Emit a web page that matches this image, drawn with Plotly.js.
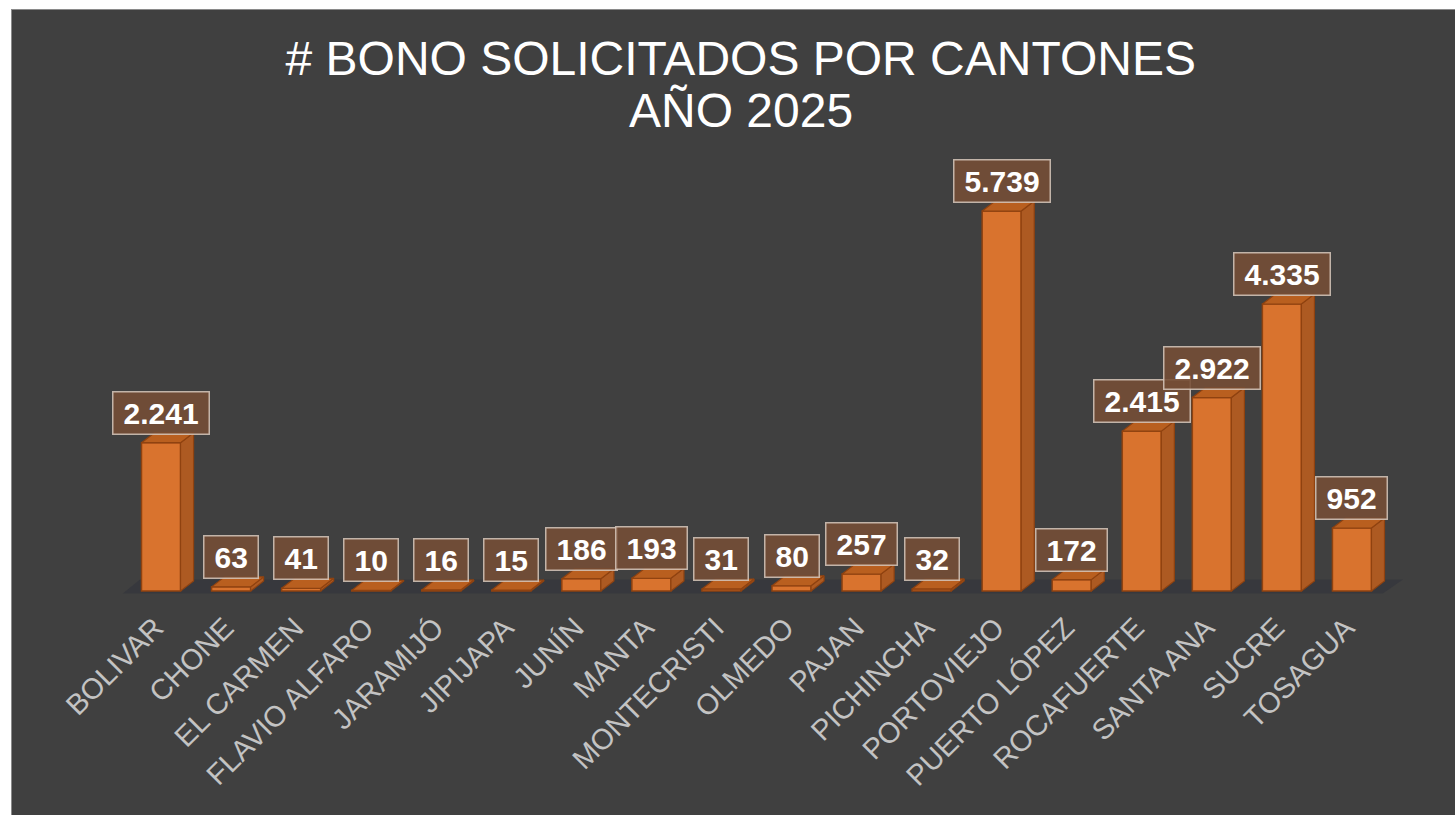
<!DOCTYPE html>
<html>
<head>
<meta charset="utf-8">
<script src="https://cdn.plot.ly/plotly-3.0.1.min.js"></script>
<style>
  html, body { margin: 0; padding: 0; background: #ffffff; width: 1455px; height: 815px; overflow: hidden; }
  #wrap { position: absolute; left: 11px; top: 9px; width: 1444px; height: 806px;
          border-left: 1px solid #8a8a8a; border-top: 1px solid #8a8a8a; box-sizing: border-box; background: #404040; }
  #chart { position: absolute; left: 0; top: 0; width: 1443px; height: 805px; }
</style>
</head>
<body>
<div id="wrap"><div id="chart"></div></div>
<script>
const categories = ["BOLIVAR","CHONE","EL CARMEN","FLAVIO ALFARO","JARAMIJÓ","JIPIJAPA","JUNÍN","MANTA","MONTECRISTI","OLMEDO","PAJAN","PICHINCHA","PORTOVIEJO","PUERTO LÓPEZ","ROCAFUERTE","SANTA ANA","SUCRE","TOSAGUA"];
const values = [2241,63,41,10,16,15,186,193,31,80,257,32,5739,172,2415,2922,4335,952];
const titleLine1 = "# BONO SOLICITADOS POR CANTONES";
const titleLine2 = "AÑO 2025";

const FONT = "Liberation Sans, Arial, sans-serif";
const barW = 0.557;     // bar width in category units
const depthX = 0.186;   // 3D depth offset (x, category units)
const depthY = 151;     // 3D depth offset (y, value units)

function fmt(v) { return String(v).replace(/\B(?=(\d{3})+(?!\d))/g, "."); }

const idx = categories.map((c, i) => i);

// side faces & top faces built from the data
const sideX = [], sideY = [], topX = [], topY = [];
values.forEach((v, i) => {
  const xl = i - barW / 2, xr = i + barW / 2;
  sideX.push(xr, xr, xr + depthX, xr + depthX, xr, null);
  sideY.push(0, v, v + depthY, depthY, 0, null);
  topX.push(xl, xr, xr + depthX, xl + depthX, xl, null);
  topY.push(v, v, v + depthY, v + depthY, v, null);
});

const edge = "#8f4210";
const traces = [
  { type: "bar", x: idx, y: values, width: barW,
    marker: { color: "#d9732e", line: { color: edge, width: 1.5 } },
    hoverinfo: "skip" },
  { type: "scatter", mode: "lines", x: sideX, y: sideY, fill: "toself",
    fillcolor: "#ad5a22", line: { color: edge, width: 1.2 }, hoverinfo: "skip" },
  { type: "scatter", mode: "lines", x: topX, y: topY, fill: "toself",
    fillcolor: "#b95f1f", line: { color: edge, width: 1.2 }, hoverinfo: "skip" }
];

const annotations = values.map((v, i) => ({
  x: i, y: v, xref: "x", yref: "y", yshift: 30,
  text: "\u2009" + fmt(v) + "\u2009", showarrow: false,
  xanchor: "center", yanchor: "middle",
  font: { family: FONT, size: 30, color: "#ffffff", weight: "bold" },
  bgcolor: "rgba(117,77,53,0.88)", bordercolor: "rgba(215,200,188,0.85)",
  borderwidth: 1.5, borderpad: 4
}));
annotations.push({
  text: titleLine2, xref: "paper", yref: "paper", x: 0.4826, y: 1.114,
  xanchor: "center", yanchor: "middle", showarrow: false,
  font: { family: FONT, size: 48, color: "#ffffff" }
});

const layout = {
  width: 1443, height: 805,
  paper_bgcolor: "#404040", plot_bgcolor: "rgba(0,0,0,0)",
  margin: { l: 107, r: 47, t: 150, b: 220 },
  showlegend: false,
  title: { text: titleLine1, x: 0.505, xanchor: "center", xref: "container",
           y: 0.9404, yanchor: "middle", yref: "container",
           font: { family: FONT, size: 48, color: "#ffffff" } },
  xaxis: { range: [-0.6, 17.8], tickmode: "array", tickvals: idx, ticktext: categories,
           tickangle: -45, showgrid: false, zeroline: false, showline: false, ticks: "",
           ticklabelstandoff: 9, ticklabelshift: -6,
           tickfont: { family: FONT, size: 29, color: "#c3c3c3" } },
  yaxis: { range: [-60, 6510], visible: false, showgrid: false, zeroline: false },
  shapes: [{
    type: "path", xref: "x", yref: "y", layer: "below",
    path: "M -0.547,-38 L 17.44,-38 L 17.73,174 L -0.30,174 Z",
    fillcolor: "#37383d", line: { width: 0 }
  }],
  annotations: annotations
};

Plotly.newPlot("chart", traces, layout, { displayModeBar: false, staticPlot: true });
</script>
</body>
</html>
